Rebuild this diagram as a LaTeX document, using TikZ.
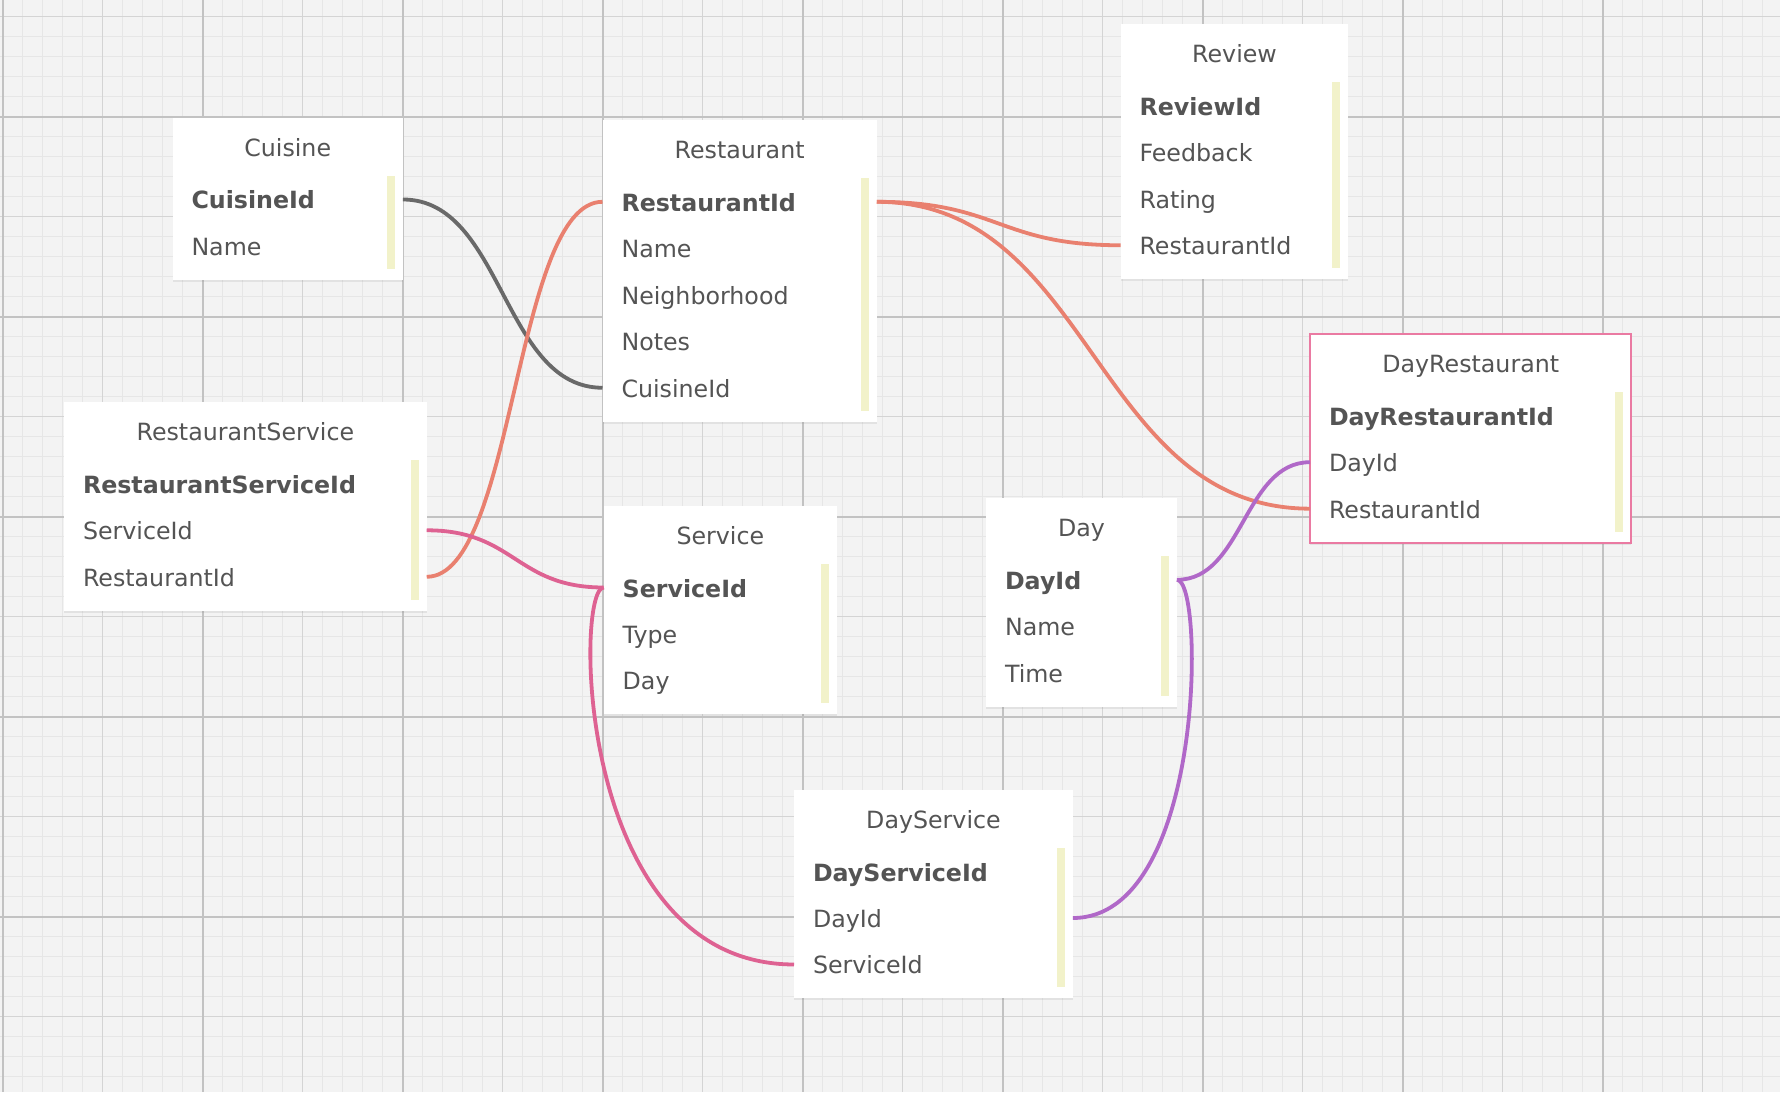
\documentclass[tikz,border=0pt]{standalone}
\usepackage{fontspec}
\setmainfont{DejaVu Sans}
\usepackage{xcolor}
\definecolor{paper}{RGB}{243,243,243}
\definecolor{gridfine}{RGB}{230,230,230}
\definecolor{gridmid}{RGB}{212,212,212}
\definecolor{gridmain}{RGB}{194,194,194}
\definecolor{textgrey}{RGB}{84,84,84}
\definecolor{baryellow}{RGB}{242,242,202}
\definecolor{linkgrey}{RGB}{105,105,105}
\definecolor{linksalmon}{RGB}{233,128,111}
\definecolor{linkpink}{RGB}{222,98,146}
\definecolor{linkpurple}{RGB}{176,104,200}
\definecolor{selpink}{RGB}{234,122,162}
\usepackage{tikz}
\usetikzlibrary{calc}
\usetikzlibrary{shadows}
\newcommand{\keybar}[1]{\fill[keybarfill] ($(#1.north east)+(-16,57.5)$) rectangle ($(#1.south east)+(-8,-11)$);}
\tikzset{
    common/.style={inner sep=0pt, outer sep=0pt, text=textgrey, font=\fontsize{13.5}{16}\selectfont,
        text height=0.4cm, text depth=0.02cm},
    entity/.style={rectangle, fill=white, anchor=north west, inner sep=0pt, outer sep=0pt,
        drop shadow={shadow xshift=0pt, shadow yshift=-0.04cm, opacity=0.14}},
    selected/.style={entity, draw=selpink, line width=0.04cm},
    entitytitle/.style={common, anchor=north, minimum height=1.165cm},
    field/.style={common, anchor=north west, minimum height=0.93cm},
    keyfield/.style={field, font=\fontsize{13.5}{16}\selectfont\bfseries},
    keybarfill/.style={fill=baryellow},
    link/.style={line width=0.076cm},
    thin grid/.style={gridfine, line width=0.03cm},
    mid grid/.style={gridmid, line width=0.03cm},
    main grid/.style={gridmain, line width=0.04cm}
}
\begin{document}
\begin{tikzpicture}[x=0.02cm, y=-0.02cm]
    \useasboundingbox (0,0) rectangle (1780,1092);
    % paper
    \fill[paper] (0,0) rectangle (1780,1092);
    \foreach \i in {0,...,88} \draw[thin grid] (2.7+20*\i,0) -- (2.7+20*\i,1092);
    \foreach \i in {0,...,53} \draw[thin grid] (0,16.5+20*\i) -- (1780,16.5+20*\i);
    \foreach \i in {0,...,17} \draw[mid grid] (2.7+100*\i,0) -- (2.7+100*\i,1092);
    \foreach \i in {0,...,10} \draw[mid grid] (0,16.5+100*\i) -- (1780,16.5+100*\i);
    \foreach \i in {0,...,8} \draw[main grid] (2.7+200*\i,0) -- (2.7+200*\i,1092);
    \foreach \i in {0,...,4} \draw[main grid] (0,116.5+200*\i) -- (1780,116.5+200*\i);

    % Cuisine
    \node[entity, minimum width=4.61cm, minimum height=3.24cm] (cuisine) at (172.5,118) {};
    \node[entitytitle] (cuisine-t) at (cuisine.north) {Cuisine};
    \node[keyfield] (cuisine-1) at ($(cuisine.north west)+(19,58.25)$) {CuisineId};
    \node[field] (cuisine-2) at (cuisine-1.south west) {Name};
    \keybar{cuisine}

    % Restaurant
    \node[entity, minimum width=5.486cm, minimum height=6.03cm] (restaurant) at (602.5,120.3) {};
    \node[entitytitle] (restaurant-t) at (restaurant.north) {Restaurant};
    \node[keyfield] (restaurant-1) at ($(restaurant.north west)+(19,58.25)$) {RestaurantId};
    \node[field] (restaurant-2) at (restaurant-1.south west) {Name};
    \node[field] (restaurant-3) at (restaurant-2.south west) {Neighborhood};
    \node[field] (restaurant-4) at (restaurant-3.south west) {Notes};
    \node[field] (restaurant-5) at (restaurant-4.south west) {CuisineId};
    \keybar{restaurant}

    % Review
    \node[entity, minimum width=4.56cm, minimum height=5.1cm] (review) at (1120.5,24.3) {};
    \node[entitytitle] (review-t) at (review.north) {Review};
    \node[keyfield] (review-1) at ($(review.north west)+(19,58.25)$) {ReviewId};
    \node[field] (review-2) at (review-1.south west) {Feedback};
    \node[field] (review-3) at (review-2.south west) {Rating};
    \node[field] (review-4) at (review-3.south west) {RestaurantId};
    \keybar{review}

    % DayRestaurant
    \node[selected, minimum width=6.43cm, minimum height=4.17cm] (dayrest) at (1310,334.2) {};
    \node[entitytitle] (dayrest-t) at (dayrest.north) {DayRestaurant};
    \node[keyfield] (dayrest-1) at ($(dayrest.north west)+(19,58.25)$) {DayRestaurantId};
    \node[field] (dayrest-2) at (dayrest-1.south west) {DayId};
    \node[field] (dayrest-3) at (dayrest-2.south west) {RestaurantId};
    \keybar{dayrest}

    % RestaurantService
    \node[entity, minimum width=7.256cm, minimum height=4.17cm] (rservice) at (64,402.3) {};
    \node[entitytitle] (rservice-t) at (rservice.north) {RestaurantService};
    \node[keyfield] (rservice-1) at ($(rservice.north west)+(19,58.25)$) {RestaurantServiceId};
    \node[field] (rservice-2) at (rservice-1.south west) {ServiceId};
    \node[field] (rservice-3) at (rservice-2.south west) {RestaurantId};
    \keybar{rservice}

    % Service
    \node[entity, minimum width=4.666cm, minimum height=4.17cm] (service) at (603.7,506) {};
    \node[entitytitle] (service-t) at (service.north) {Service};
    \node[keyfield] (service-1) at ($(service.north west)+(19,58.25)$) {ServiceId};
    \node[field] (service-2) at (service-1.south west) {Type};
    \node[field] (service-3) at (service-2.south west) {Day};
    \keybar{service}

    % Day
    \node[entity, minimum width=3.82cm, minimum height=4.17cm] (day) at (986,498.3) {};
    \node[entitytitle] (day-t) at (day.north) {Day};
    \node[keyfield] (day-1) at ($(day.north west)+(19,58.25)$) {DayId};
    \node[field] (day-2) at (day-1.south west) {Name};
    \node[field] (day-3) at (day-2.south west) {Time};
    \keybar{day}

    % DayService
    \node[entity, minimum width=5.58cm, minimum height=4.17cm] (dservice) at (794,790) {};
    \node[entitytitle] (dservice-t) at (dservice.north) {DayService};
    \node[keyfield] (dservice-1) at ($(dservice.north west)+(19,58.25)$) {DayServiceId};
    \node[field] (dservice-2) at (dservice-1.south west) {DayId};
    \node[field] (dservice-3) at (dservice-2.south west) {ServiceId};
    \keybar{dservice}

    % links
    \draw[link, linkgrey] (cuisine-1 -| cuisine.east) .. controls +(100,0) and +(-100,0) .. (restaurant-5 -| restaurant.west);
    \draw[link, linksalmon] (rservice-3 -| rservice.east) .. controls +(88,0) and +(-88,0) .. (restaurant-1 -| restaurant.west);
    \draw[link, linksalmon] (restaurant-1 -| restaurant.east) .. controls +(122,0) and +(-122,0) .. (review-4 -| review.west);
    \draw[link, linksalmon] (restaurant-1 -| restaurant.east) .. controls +(216,0) and +(-216,0) .. (dayrest-3 -| dayrest.west);
    \draw[link, linkpink] (rservice-2 -| rservice.east) .. controls +(88,0) and +(-88,0) .. (service-1 -| service.west);
    \draw[link, linkpink] (service-1 -| service.west) .. controls +(-29,0) and +(-219,0) .. (dservice-3 -| dservice.west);
    \draw[link, linkpurple] (day-1 -| day.east) .. controls +(66,0) and +(-66,0) .. (dayrest-2 -| dayrest.west);
    \draw[link, linkpurple] (day-1 -| day.east) .. controls +(28,0) and +(132,0) .. (dservice-2 -| dservice.east);
\end{tikzpicture}
\end{document}
